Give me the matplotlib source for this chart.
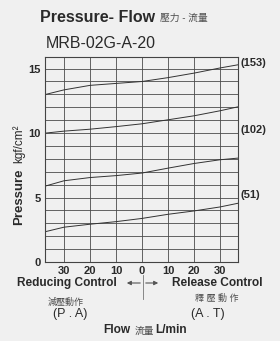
import matplotlib.pyplot as plt
import numpy as np

plt.rcParams['font.family'] = ['Liberation Sans', 'Noto Sans CJK TC', 'DejaVu Sans']

# flow (L/min), negative side = reducing control, positive = release control
flow = [-37, -30, -20, -10, 0, 10, 20, 30, 37]
p153 = [13.0, 13.35, 13.7, 13.85, 14.0, 14.3, 14.65, 15.05, 15.3]
p102 = [10.0, 10.15, 10.3, 10.5, 10.72, 11.03, 11.34, 11.73, 12.04]
pmid = [5.9, 6.3, 6.55, 6.7, 6.9, 7.28, 7.64, 7.93, 8.06]
p51 = [2.36, 2.7, 2.93, 3.13, 3.38, 3.7, 3.96, 4.27, 4.56]
curve_labels = ['(153)', '(102)', '(51)']
label_y = [15.4, 10.25, 5.2]

xticks = [-30, -20, -10, 0, 10, 20, 30]
xticklabels = ['30', '20', '10', '0', '10', '20', '30']
yticks = [0, 5, 10, 15]

bg = '#f0f0f0'
ink = '#2a2a2a'
soft = '#505050'

fig = plt.figure(figsize=(2.8, 3.41), dpi=100, facecolor=bg)
ax = fig.add_axes([45/280, 1-262/341, 193/280, 205/341], facecolor=bg)

for p in [p153, p102, pmid, p51]:
    ax.plot(flow, p, color='#333333', lw=0.7)

ax.set_xlim(-37.3, 36.9)
ax.set_ylim(0, 15.9)
ax.set_xticks(xticks)
ax.set_xticklabels(xticklabels)
ax.set_yticks(yticks)
ax.set_yticks(np.arange(0, 16, 1), minor=True)
ax.grid(True, which='both', color='#4a4a4a', lw=0.6)
ax.set_axisbelow(True)
ax.tick_params(which='both', length=0, labelsize=8, colors=ink, pad=3)
for lab in ax.get_xticklabels() + ax.get_yticklabels():
    lab.set_fontweight('bold')
for s in ax.spines.values():
    s.set_color('#444444')
    s.set_linewidth(0.8)

for lab, y in zip(curve_labels, label_y):
    ax.text(37.8, y, lab, fontsize=8, fontweight='bold', color=ink,
            va='center', ha='left', clip_on=False)

def fx(px):
    return px / 280

def fy(py):
    return 1 - py / 341

fig.text(fx(40), fy(17), 'Pressure- Flow', fontsize=11.5, fontweight='bold',
         color=ink, va='center', ha='left')
fig.text(fx(160), fy(18), '壓力 - 流量', fontsize=7, color=soft,
         va='center', ha='left')
fig.text(fx(46), fy(44), 'MRB-02G-A-20', fontsize=11.5, color=ink,
         va='center', ha='left')

fig.text(fx(19), fy(197), 'Pressure', fontsize=9.5, fontweight='bold',
         color=ink, rotation=90, va='center', ha='center')
fig.text(fx(19), fy(144), 'kgf/cm²', fontsize=8.5, color=ink,
         rotation=90, va='center', ha='center')

fig.text(fx(67), fy(283), 'Reducing Control', fontsize=8.6, fontweight='bold',
         color=ink, va='center', ha='center')
fig.text(fx(217), fy(283), 'Release Control', fontsize=8.6, fontweight='bold',
         color=ink, va='center', ha='center')
fig.text(fx(66), fy(302), '減壓動作', fontsize=6.5, color=soft,
         va='center', ha='center')
fig.text(fx(217), fy(298), '釋 壓 動 作', fontsize=6.5, color=soft,
         va='center', ha='center')
fig.text(fx(70), fy(314), '(P . A)', fontsize=9, color=ink,
         va='center', ha='center')
fig.text(fx(208), fy(314), '(A . T)', fontsize=9, color=ink,
         va='center', ha='center')

fig.text(fx(117), fy(330), 'Flow', fontsize=8.6, fontweight='bold',
         color=ink, va='center', ha='center')
fig.text(fx(144), fy(331), '流量', fontsize=7, color=soft,
         va='center', ha='center')
fig.text(fx(171), fy(330), 'L/min', fontsize=8.6, fontweight='bold',
         color=ink, va='center', ha='center')

# direction arrows under the zero mark
arr = dict(arrowstyle='-|>', color='#555555', lw=0.8, mutation_scale=6)
fig.add_artist(plt.Line2D([fx(143), fx(143)], [fy(275), fy(299)],
                          color='#777777', lw=0.6))
plt.annotate('', xy=(fx(124), fy(283)), xytext=(fx(143), fy(283)),
             xycoords='figure fraction', arrowprops=arr)
plt.annotate('', xy=(fx(161), fy(283)), xytext=(fx(143), fy(283)),
             xycoords='figure fraction', arrowprops=arr)

fig.savefig('out.png', dpi=100, facecolor=bg)
